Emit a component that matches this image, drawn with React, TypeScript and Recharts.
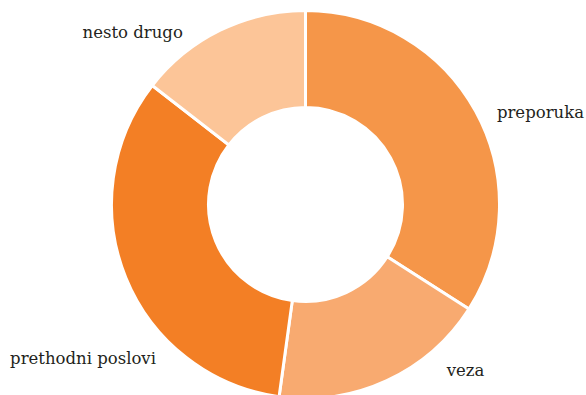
import React from "react";
import { PieChart, Pie, Cell } from "recharts";

const categories = ["preporuka", "veza", "prethodni poslovi", "nesto drugo"];
const values = [47, 25, 46, 20];
const colors = ["#F59649", "#F8AA70", "#F37F25", "#FCC598"];

// label layout: angle (deg, clockwise from top), distance beyond outer radius, anchor
const labelAngles = [65.66, 140.45, 223.18, 323.6];
const labelGaps = [16.1, 27.8, 24.5, 12.7];
const labelAnchors = ["start", "start", "end", "end"];

const data = categories.map((name, i) => ({ name, value: values[i] }));

const RADIAN = Math.PI / 180;
const FONT = "DejaVu Serif";

const renderLabel = (props: any) => {
  const { cx, cy, outerRadius, index } = props;
  const a = labelAngles[index] * RADIAN;
  const r = outerRadius + labelGaps[index];
  const x = cx + r * Math.sin(a);
  const y = cy - r * Math.cos(a);
  return (
    <text
      key={`lbl-${index}`}
      x={x}
      y={y}
      textAnchor={labelAnchors[index]}
      fill="#231F20"
      fontFamily={FONT}
      fontSize={16.5}
    >
      {categories[index]}
    </text>
  );
};

export default function App() {
  return (
    <div style={{ position: "fixed", left: 0, top: 0, width: 586, height: 395, background: "#fff" }}>
      <PieChart width={586} height={395}>
        <Pie
          data={data}
          dataKey="value"
          nameKey="name"
          cx={300.5}
          cy={199.5}
          innerRadius={97}
          outerRadius={194}
          startAngle={90}
          endAngle={-270}
          stroke="#ffffff"
          strokeWidth={3}
          label={renderLabel}
          labelLine={false}
          isAnimationActive={false}
        >
          {data.map((d, i) => (
            <Cell key={d.name} fill={colors[i]} />
          ))}
        </Pie>
      </PieChart>
    </div>
  );
}
